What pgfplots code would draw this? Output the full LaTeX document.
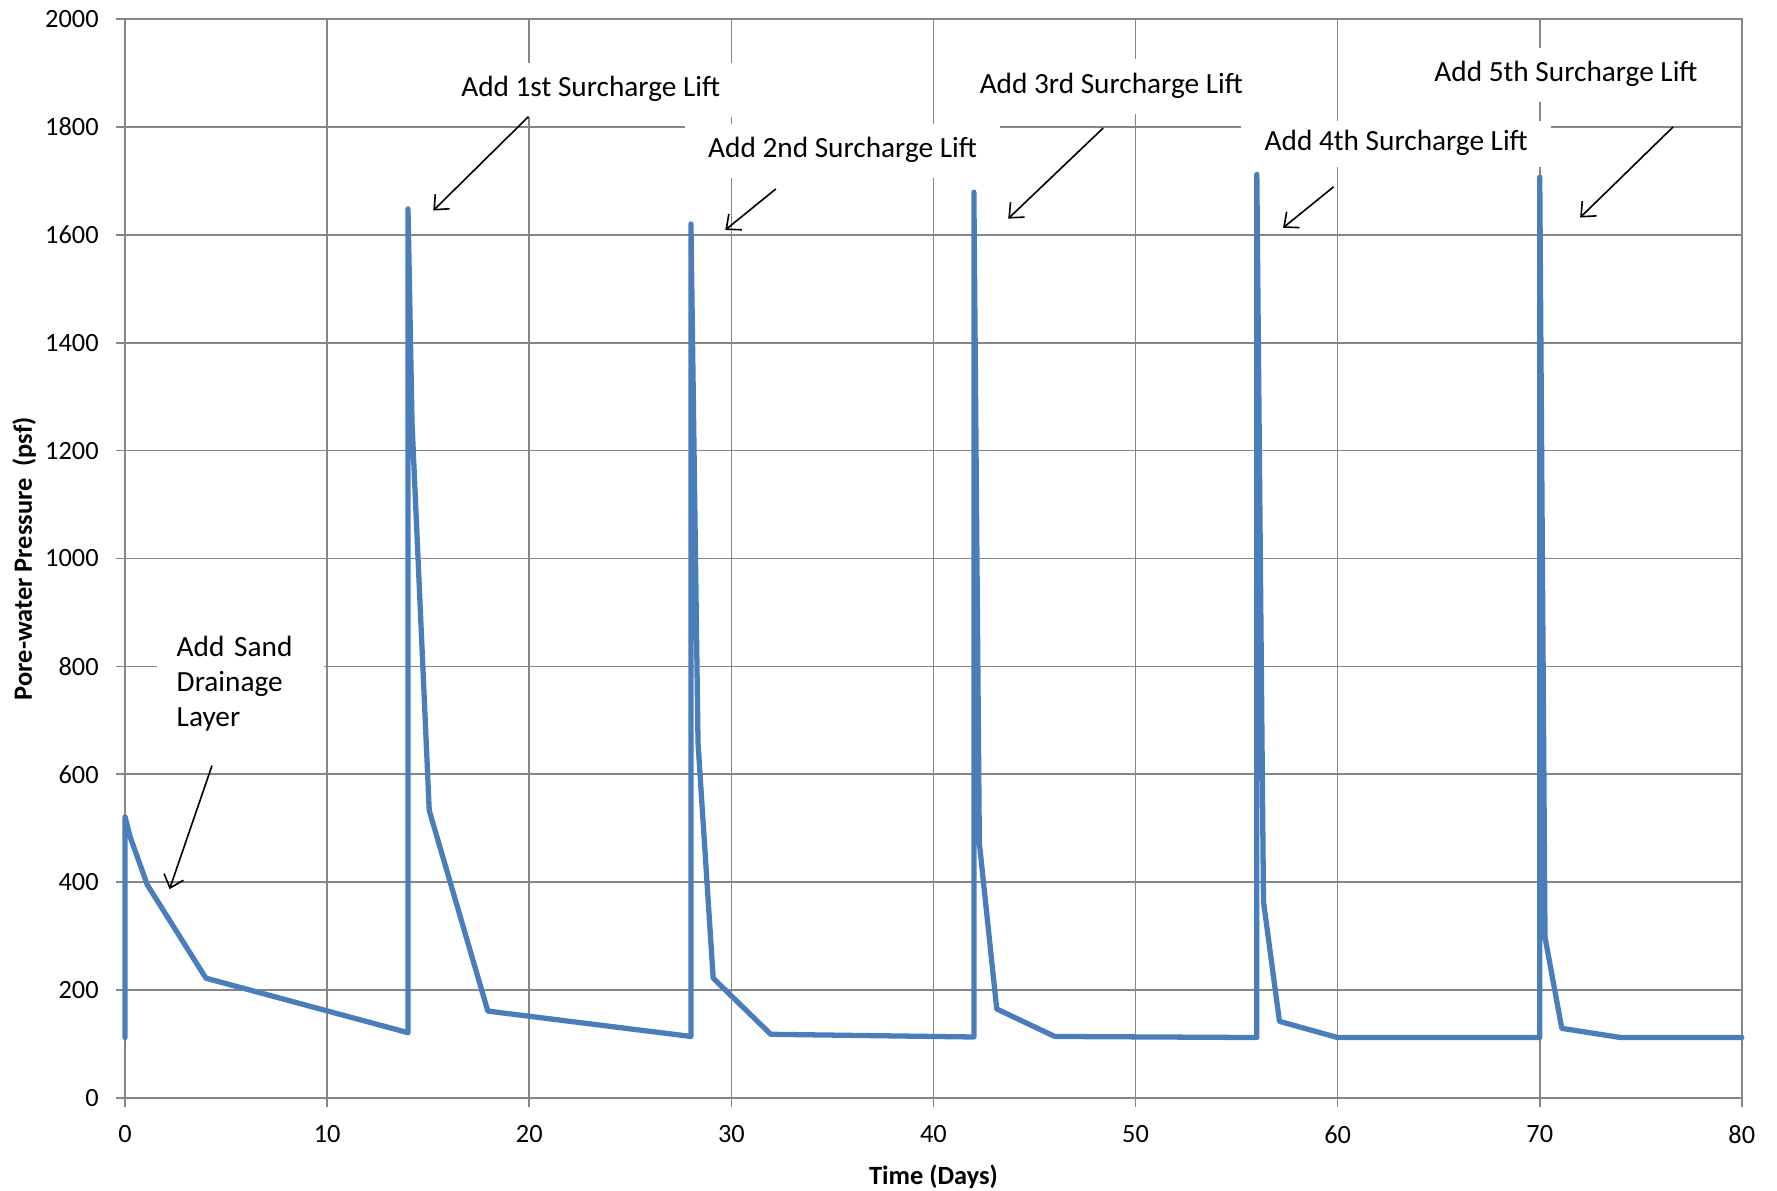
\documentclass[border=0pt]{standalone}
\usepackage{fontspec}
\setmainfont{Carlito}
\usepackage{pgfplots}
\pgfplotsset{compat=1.18}
\usetikzlibrary{arrows.meta}
\definecolor{gridgray}{RGB}{134,134,134}
\definecolor{lineblue}{RGB}{74,126,187}
\tikzset{
  annbox/.style={fill=white, inner xsep=8pt, inner ysep=4.5pt, text height=7pt, text depth=2.5pt, font=\fontsize{10}{12}\selectfont},
  annarr/.style={black, line width=0.55pt, -{Straight Barb[length=4pt,width=7pt]}},
}
\begin{document}
\begin{tikzpicture}
\begin{axis}[
  scale only axis, width=551.9pt, height=368.3pt,
  xmin=0, xmax=80, ymin=0, ymax=2000,
  xtick distance=10, ytick distance=200,
  grid=major, grid style={gridgray, line width=0.55pt},
  axis line style={gridgray, line width=0.55pt},
  tick style={gridgray, line width=0.55pt},
  tick align=outside, major tick length=3pt, tick pos=left,
  /pgf/number format/assume math mode=true,
  /pgf/number format/1000 sep={},
  ticklabel style={font=\fontsize{9}{11}\selectfont},
  yticklabel style={xshift=-2.5pt},
  xticklabel style={yshift=-3pt},
  xlabel={Time (Days)}, ylabel={Pore-water Pressure\ \ (psf)},
  label style={font=\bfseries\fontsize{9}{11}\selectfont, inner sep=0pt},
  xlabel style={at={(axis description cs:0.5,-0.0733)}, anchor=center},
  ylabel style={at={(axis description cs:-0.0625,0.5)}, anchor=center},
  clip=false,
]
% annotation boxes
\node[annbox] at (axis cs:23.04,1869) {Add 1st Surcharge Lift};
\node[annbox] at (axis cs:35.5,1756) {Add 2nd Surcharge Lift};
\node[annbox] at (axis cs:48.8,1875) {Add 3rd Surcharge Lift};
\node[annbox, inner ysep=3pt] at (axis cs:62.9,1768) {Add 4th Surcharge Lift};
\node[annbox] at (axis cs:71.3,1896) {Add 5th Surcharge Lift};
\node[fill=white, inner xsep=6.6pt, inner ysep=4pt, text width=43.6pt, align=left, anchor=west, font=\fontsize{10}{12}\selectfont] at (axis cs:1.57,768) {Add Sand\\Drainage\\Layer};
\addplot[lineblue, line width=1.8pt, line join=round, line cap=round] coordinates {
(0,112) (0,521) (0.25,484) (1.1,395) (4.0,222) (14.0,121)
(14.0,1648) (14.2,1250) (15.05,533) (17.95,161) (28.0,114)
(28.0,1620) (28.35,658) (29.1,222) (31.95,118) (42.0,113)
(42.0,1679) (42.27,473) (43.13,165) (46.0,114) (56.0,112)
(56.0,1712) (56.33,364) (57.12,142) (60.0,112) (70.0,112)
(70.0,1707) (70.26,298) (71.09,129) (74.0,112) (80.0,112)
};
\coordinate (bl) at (rel axis cs:0,0);
\coordinate (tr) at (rel axis cs:1,1);
% arrows
\draw[annarr] (axis cs:19.96,1819) -- (axis cs:15.25,1645);
\draw[annarr] (axis cs:32.2,1685) -- (axis cs:29.7,1609);
\draw[annarr] (axis cs:48.4,1798) -- (axis cs:43.7,1630);
\draw[annarr] (axis cs:59.8,1689) -- (axis cs:57.3,1613);
\draw[annarr] (axis cs:76.6,1800) -- (axis cs:72.0,1632);
\draw[annarr] (axis cs:4.3,616) -- (axis cs:2.2,387);
\end{axis}
\path[use as bounding box] ([shift={(-42.7pt,-31.7pt)}]bl) rectangle ([shift={(12pt,6.5pt)}]tr);
\end{tikzpicture}
\end{document}
